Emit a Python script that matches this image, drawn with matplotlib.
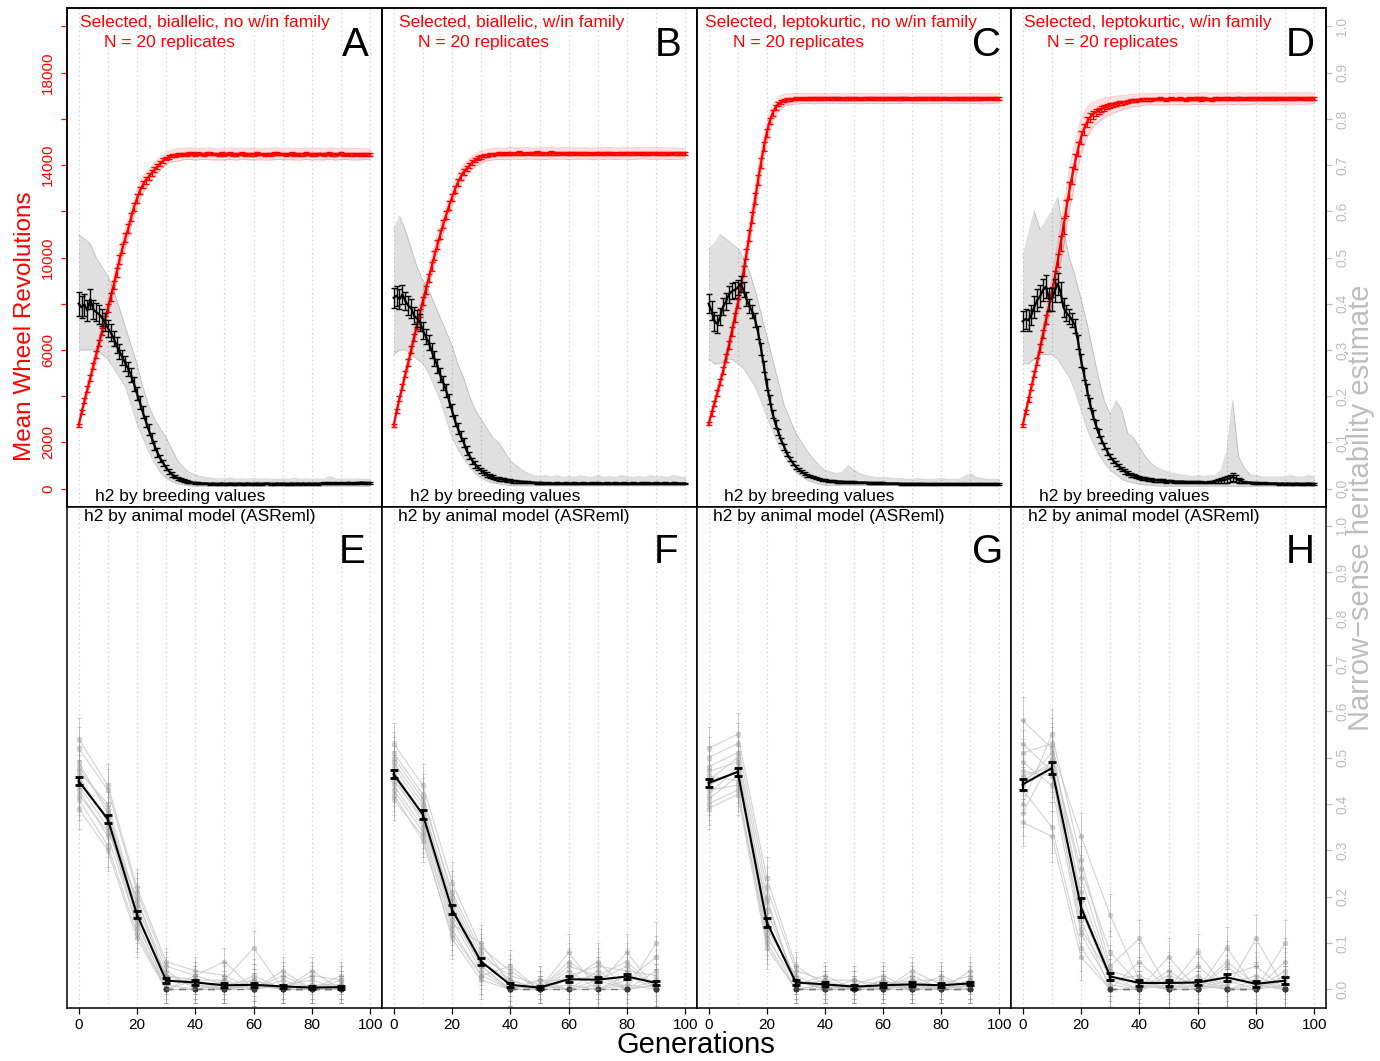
import numpy as np
import matplotlib
matplotlib.use("Agg")
import matplotlib.pyplot as plt
from matplotlib import font_manager

plt.rcParams['font.family'] = ['Liberation Sans', 'DejaVu Sans']
_installed = {f.name for f in font_manager.fontManager.ttflist}
if 'Liberation Sans Narrow' in _installed:
    TICK_FAMILY = ['Liberation Sans Narrow', 'Liberation Sans', 'DejaVu Sans']
    TICK_SIZE = 12.5
else:
    TICK_FAMILY = ['Liberation Sans', 'DejaVu Sans']
    TICK_SIZE = 11

# ---------------- data ----------------
generations = list(range(0, 101))
band_generations = list(range(0, 101, 2))
model_generations = [0, 10, 20, 30, 40, 50, 60, 70, 80, 90]

top_titles = ["Selected, biallelic, no w/in family", "Selected, biallelic, w/in family",
              "Selected, leptokurtic, no w/in family", "Selected, leptokurtic, w/in family"]
subtitle = "N = 20 replicates"
top_letters = ["A", "B", "C", "D"]
bottom_letters = ["E", "F", "G", "H"]
top_note = "h2 by breeding values"
bottom_note = "h2 by animal model (ASReml)"

rev_ticks = [0, 2000, 4000, 6000, 8000, 10000, 12000, 14000, 16000, 18000, 20000]
rev_ticklabels = ["0", "2000", "", "6000", "", "10000", "", "14000", "", "18000", ""]
h2_ticks = [0.0, 0.1, 0.2, 0.3, 0.4, 0.5, 0.6, 0.7, 0.8, 0.9, 1.0]
h2_ticklabels = ["0.0", "0.1", "0.2", "0.3", "0.4", "0.5", "0.6", "0.7", "0.8", "0.9", "1.0"]
gen_ticks = [0, 20, 40, 60, 80, 100]
gen_ticklabels = ["0", "20", "40", "60", "80", "100"]
grid_generations = [0, 10, 20, 30, 40, 50, 60, 70, 80, 90, 100]

# Mean wheel revolutions (per generation)
rev_mean_A = [
    2730, 3300, 3800, 4300, 4800, 5300, 5800, 6300, 6800, 7300,
    7800, 8300, 8800, 9350, 9900, 10400, 10850, 11250, 11750, 12200,
    12550, 12900, 13150, 13350, 13500, 13650, 13800, 13950, 14080, 14200,
    14280, 14350, 14400, 14430, 14450, 14460, 14480, 14470, 14500, 14490,
    14470, 14500, 14480, 14460, 14490, 14500, 14470, 14480, 14460, 14490,
    14470, 14480, 14500, 14470, 14460, 14480, 14490, 14470, 14480, 14460,
    14470, 14490, 14480, 14470, 14460, 14480, 14470, 14490, 14500, 14480,
    14470, 14460, 14480, 14490, 14470, 14480, 14460, 14470, 14490, 14480,
    14470, 14460, 14480, 14490, 14470, 14480, 14500, 14470, 14460, 14480,
    14490, 14470, 14480, 14460, 14470, 14480, 14470, 14460, 14480, 14470,
    14460]
rev_mean_B = [
    2730, 3350, 3900, 4400, 4950, 5450, 6000, 6550, 7050, 7600,
    8100, 8600, 9100, 9600, 10100, 10550, 11000, 11450, 11850, 12250,
    12600, 12950, 13250, 13500, 13700, 13850, 14000, 14120, 14220, 14300,
    14350, 14400, 14430, 14450, 14470, 14480, 14490, 14500, 14480, 14500,
    14510, 14490, 14500, 14520, 14500, 14480, 14510, 14500, 14490, 14520,
    14500, 14510, 14490, 14500, 14520, 14510, 14490, 14500, 14510, 14500,
    14490, 14510, 14500, 14520, 14500, 14490, 14510, 14500, 14480, 14500,
    14510, 14500, 14490, 14510, 14520, 14500, 14490, 14510, 14500, 14490,
    14500, 14510, 14490, 14500, 14520, 14500, 14510, 14490, 14500, 14510,
    14500, 14490, 14510, 14500, 14490, 14520, 14500, 14510, 14490, 14500,
    14500]
rev_mean_C = [
    2800, 3250, 3700, 4150, 4620, 5100, 5650, 6200, 6800, 7400,
    8000, 8700, 9400, 10150, 10950, 11750, 12550, 13350, 14100, 14800,
    15400, 15900, 16250, 16500, 16650, 16740, 16800, 16830, 16850, 16860,
    16870, 16860, 16880, 16870, 16890, 16880, 16870, 16890, 16880, 16870,
    16880, 16890, 16870, 16880, 16900, 16880, 16870, 16890, 16880, 16870,
    16890, 16880, 16870, 16880, 16890, 16900, 16880, 16870, 16880, 16890,
    16880, 16870, 16890, 16880, 16870, 16880, 16890, 16880, 16900, 16880,
    16870, 16880, 16890, 16880, 16870, 16890, 16880, 16870, 16880, 16890,
    16880, 16900, 16880, 16870, 16890, 16880, 16870, 16880, 16890, 16880,
    16870, 16880, 16890, 16880, 16870, 16890, 16880, 16900, 16880, 16890,
    16880]
rev_mean_D = [
    2730, 3300, 3850, 4400, 4950, 5500, 6100, 6700, 7300, 7900,
    8500, 9150, 9850, 10600, 11350, 12150, 12900, 13550, 14150, 14700,
    15200, 15550, 15850, 16050, 16180, 16280, 16350, 16420, 16480, 16530,
    16570, 16610, 16640, 16670, 16700, 16720, 16750, 16780, 16800, 16810,
    16820, 16830, 16850, 16840, 16850, 16860, 16850, 16870, 16860, 16850,
    16860, 16870, 16850, 16860, 16880, 16860, 16850, 16870, 16860, 16880,
    16870, 16860, 16880, 16870, 16860, 16850, 16870, 16880, 16860, 16870,
    16880, 16870, 16860, 16880, 16890, 16870, 16860, 16880, 16870, 16890,
    16880, 16870, 16890, 16880, 16870, 16880, 16890, 16870, 16880, 16890,
    16870, 16880, 16890, 16870, 16880, 16890, 16880, 16870, 16890, 16880,
    16880]

rev_se_A = [
    60, 90, 110, 120, 130, 140, 150, 150, 160, 160,
    170, 170, 180, 180, 190, 190, 190, 190, 190, 180,
    180, 170, 160, 150, 140, 130, 120, 110, 100, 90,
    80, 80, 70, 70, 70, 60, 60, 60, 60, 60,
    60, 50, 60, 70, 60, 60, 50, 60, 60, 70,
    60, 60, 50, 60, 70, 60, 60, 60, 50, 60,
    60, 70, 60, 50, 60, 60, 60, 70, 60, 60,
    50, 60, 60, 70, 60, 60, 50, 60, 60, 60,
    70, 60, 60, 50, 60, 60, 70, 60, 60, 50,
    60, 60, 60, 70, 60, 50, 60, 60, 60, 60,
    60]
rev_se_B = [
    60, 90, 110, 120, 130, 140, 150, 160, 160, 170,
    170, 180, 180, 190, 190, 190, 190, 190, 180, 180,
    170, 160, 150, 140, 130, 120, 110, 100, 90, 80,
    80, 70, 70, 70, 60, 60, 60, 60, 60, 60,
    60, 50, 60, 70, 60, 60, 50, 60, 60, 70,
    60, 60, 50, 60, 70, 60, 60, 60, 50, 60,
    60, 70, 60, 50, 60, 60, 60, 70, 60, 60,
    50, 60, 60, 70, 60, 60, 50, 60, 60, 60,
    70, 60, 60, 50, 60, 60, 70, 60, 60, 50,
    60, 60, 60, 70, 60, 50, 60, 60, 60, 60,
    60]
rev_se_C = [
    60, 90, 110, 130, 140, 150, 160, 170, 180, 190,
    200, 210, 220, 230, 240, 240, 240, 230, 220, 200,
    170, 140, 120, 100, 90, 80, 70, 70, 60, 60,
    60, 60, 60, 50, 60, 60, 60, 60, 50, 60,
    60, 50, 60, 70, 60, 60, 50, 60, 60, 70,
    60, 60, 50, 60, 70, 60, 60, 60, 50, 60,
    60, 70, 60, 50, 60, 60, 60, 70, 60, 60,
    50, 60, 60, 70, 60, 60, 50, 60, 60, 60,
    70, 60, 60, 50, 60, 60, 70, 60, 60, 50,
    60, 60, 60, 70, 60, 50, 60, 60, 60, 60,
    60]
rev_se_D = [
    60, 90, 110, 130, 140, 150, 170, 180, 190, 200,
    220, 250, 280, 310, 340, 360, 370, 360, 340, 310,
    280, 250, 220, 190, 170, 150, 140, 130, 120, 110,
    100, 95, 90, 85, 80, 75, 70, 70, 65, 65,
    60, 60, 60, 70, 60, 60, 50, 60, 60, 70,
    60, 60, 50, 60, 70, 60, 60, 60, 50, 60,
    60, 70, 60, 50, 60, 60, 60, 70, 60, 60,
    50, 60, 60, 70, 60, 60, 50, 60, 60, 60,
    70, 60, 60, 50, 60, 60, 70, 60, 60, 50,
    60, 60, 60, 70, 60, 50, 60, 60, 60, 60,
    60]

# half-width of the replicate spread of revolutions (every 2 generations)
rev_spread_A = [
    120, 200, 260, 300, 330, 360, 380, 400, 400, 400,
    380, 360, 330, 300, 280, 260, 250, 280, 250, 250,
    250, 240, 250, 250, 240, 250, 250, 250, 240, 250,
    250, 250, 240, 250, 250, 240, 250, 250, 250, 240,
    250, 250, 250, 240, 250, 250, 240, 250, 250, 240,
    220]
rev_spread_B = [
    120, 200, 260, 300, 330, 360, 380, 400, 400, 380,
    360, 340, 320, 300, 280, 260, 250, 250, 240, 250,
    250, 240, 250, 250, 240, 250, 250, 250, 240, 250,
    250, 250, 240, 250, 250, 240, 250, 250, 250, 240,
    250, 250, 250, 240, 250, 250, 240, 250, 250, 240,
    220]
rev_spread_C = [
    120, 200, 260, 300, 350, 400, 450, 500, 550, 550,
    450, 350, 300, 260, 240, 230, 220, 220, 220, 220,
    220, 210, 220, 220, 210, 220, 220, 220, 210, 220,
    220, 220, 210, 220, 220, 210, 220, 220, 220, 210,
    220, 220, 220, 210, 220, 220, 210, 220, 220, 210,
    200]
rev_spread_D = [
    120, 200, 260, 320, 400, 550, 750, 900, 900, 850,
    750, 650, 550, 480, 420, 380, 340, 310, 290, 270,
    260, 250, 240, 250, 250, 240, 250, 250, 250, 240,
    250, 250, 250, 240, 250, 250, 240, 250, 250, 250,
    240, 250, 250, 250, 240, 250, 250, 240, 250, 250,
    220]

# Heritability estimated from breeding values (per generation)
h2_mean_A = [
    0.400, 0.392, 0.398, 0.385, 0.410, 0.388, 0.382, 0.377, 0.370, 0.360,
    0.347, 0.338, 0.325, 0.310, 0.296, 0.284, 0.271, 0.259, 0.245, 0.226,
    0.205, 0.186, 0.165, 0.146, 0.127, 0.110, 0.093, 0.078, 0.065, 0.055,
    0.045, 0.037, 0.031, 0.026, 0.022, 0.019, 0.017, 0.015, 0.014, 0.013,
    0.012, 0.012, 0.011, 0.011, 0.011, 0.010, 0.011, 0.010, 0.010, 0.011,
    0.010, 0.010, 0.011, 0.010, 0.010, 0.011, 0.010, 0.010, 0.011, 0.010,
    0.010, 0.011, 0.010, 0.010, 0.011, 0.011, 0.010, 0.010, 0.011, 0.010,
    0.011, 0.010, 0.010, 0.011, 0.010, 0.011, 0.010, 0.011, 0.010, 0.011,
    0.010, 0.011, 0.010, 0.011, 0.012, 0.011, 0.012, 0.011, 0.012, 0.011,
    0.012, 0.011, 0.012, 0.012, 0.011, 0.012, 0.012, 0.013, 0.012, 0.012,
    0.012]
h2_mean_B = [
    0.413, 0.417, 0.410, 0.420, 0.406, 0.396, 0.390, 0.374, 0.368, 0.360,
    0.342, 0.329, 0.316, 0.299, 0.281, 0.266, 0.245, 0.229, 0.212, 0.190,
    0.169, 0.147, 0.130, 0.113, 0.100, 0.082, 0.071, 0.060, 0.052, 0.045,
    0.039, 0.035, 0.030, 0.027, 0.025, 0.022, 0.021, 0.020, 0.019, 0.018,
    0.017, 0.016, 0.016, 0.015, 0.015, 0.014, 0.014, 0.013, 0.013, 0.012,
    0.012, 0.012, 0.011, 0.012, 0.011, 0.011, 0.012, 0.011, 0.011, 0.012,
    0.011, 0.011, 0.012, 0.011, 0.011, 0.012, 0.011, 0.011, 0.012, 0.011,
    0.012, 0.011, 0.011, 0.012, 0.011, 0.011, 0.012, 0.011, 0.011, 0.012,
    0.011, 0.011, 0.012, 0.011, 0.011, 0.012, 0.011, 0.012, 0.011, 0.011,
    0.012, 0.011, 0.011, 0.012, 0.011, 0.011, 0.012, 0.011, 0.011, 0.011,
    0.011]
h2_mean_C = [
    0.400, 0.385, 0.362, 0.356, 0.372, 0.394, 0.405, 0.420, 0.427, 0.430,
    0.435, 0.442, 0.430, 0.410, 0.395, 0.383, 0.365, 0.338, 0.303, 0.265,
    0.225, 0.192, 0.162, 0.140, 0.122, 0.104, 0.090, 0.075, 0.064, 0.055,
    0.047, 0.041, 0.036, 0.032, 0.029, 0.027, 0.025, 0.023, 0.021, 0.019,
    0.018, 0.017, 0.016, 0.016, 0.015, 0.015, 0.015, 0.014, 0.014, 0.014,
    0.014, 0.013, 0.013, 0.013, 0.013, 0.012, 0.012, 0.012, 0.012, 0.012,
    0.012, 0.011, 0.011, 0.011, 0.011, 0.011, 0.010, 0.010, 0.010, 0.010,
    0.010, 0.010, 0.010, 0.010, 0.010, 0.009, 0.009, 0.009, 0.009, 0.009,
    0.009, 0.009, 0.010, 0.009, 0.009, 0.009, 0.010, 0.009, 0.009, 0.009,
    0.009, 0.009, 0.009, 0.010, 0.009, 0.009, 0.009, 0.009, 0.009, 0.009,
    0.009]
h2_mean_D = [
    0.362, 0.367, 0.364, 0.376, 0.393, 0.408, 0.416, 0.430, 0.437, 0.410,
    0.410, 0.428, 0.443, 0.425, 0.392, 0.380, 0.373, 0.364, 0.352, 0.318,
    0.278, 0.248, 0.215, 0.185, 0.160, 0.139, 0.120, 0.106, 0.092, 0.080,
    0.069, 0.061, 0.054, 0.048, 0.042, 0.037, 0.033, 0.030, 0.028, 0.026,
    0.024, 0.022, 0.021, 0.020, 0.019, 0.018, 0.018, 0.017, 0.017, 0.016,
    0.016, 0.016, 0.015, 0.015, 0.015, 0.015, 0.014, 0.014, 0.014, 0.014,
    0.014, 0.014, 0.013, 0.013, 0.014, 0.014, 0.015, 0.016, 0.017, 0.018,
    0.020, 0.022, 0.025, 0.022, 0.018, 0.016, 0.014, 0.013, 0.013, 0.012,
    0.012, 0.012, 0.011, 0.012, 0.011, 0.011, 0.011, 0.011, 0.010, 0.011,
    0.010, 0.011, 0.010, 0.010, 0.011, 0.010, 0.010, 0.010, 0.011, 0.010,
    0.010]

h2_se_A = [
    0.026, 0.024, 0.024, 0.022, 0.022, 0.021, 0.020, 0.020, 0.019, 0.019,
    0.018, 0.018, 0.017, 0.017, 0.016, 0.016, 0.016, 0.015, 0.015, 0.015,
    0.014, 0.014, 0.013, 0.012, 0.012, 0.011, 0.010, 0.009, 0.008, 0.007,
    0.006, 0.005, 0.005, 0.004, 0.004, 0.003, 0.003, 0.003, 0.003, 0.002,
    0.002, 0.002, 0.002, 0.002, 0.002, 0.002, 0.002, 0.002, 0.002, 0.002,
    0.002, 0.002, 0.002, 0.002, 0.002, 0.002, 0.002, 0.002, 0.002, 0.002,
    0.002, 0.002, 0.002, 0.002, 0.002, 0.002, 0.002, 0.002, 0.002, 0.002,
    0.002, 0.002, 0.002, 0.002, 0.002, 0.002, 0.002, 0.002, 0.002, 0.002,
    0.002, 0.002, 0.002, 0.002, 0.003, 0.002, 0.002, 0.002, 0.002, 0.002,
    0.002, 0.002, 0.002, 0.002, 0.002, 0.002, 0.002, 0.002, 0.002, 0.002,
    0.002]
h2_se_B = [
    0.022, 0.022, 0.021, 0.021, 0.020, 0.020, 0.020, 0.019, 0.019, 0.018,
    0.018, 0.017, 0.017, 0.016, 0.016, 0.015, 0.015, 0.015, 0.014, 0.014,
    0.013, 0.012, 0.012, 0.011, 0.010, 0.009, 0.008, 0.007, 0.007, 0.006,
    0.006, 0.005, 0.005, 0.005, 0.004, 0.004, 0.004, 0.003, 0.003, 0.003,
    0.003, 0.003, 0.003, 0.002, 0.002, 0.002, 0.002, 0.002, 0.002, 0.002,
    0.002, 0.002, 0.002, 0.002, 0.002, 0.002, 0.002, 0.002, 0.002, 0.002,
    0.002, 0.002, 0.002, 0.002, 0.002, 0.002, 0.002, 0.002, 0.002, 0.002,
    0.002, 0.002, 0.002, 0.002, 0.002, 0.002, 0.002, 0.002, 0.002, 0.002,
    0.002, 0.002, 0.002, 0.002, 0.002, 0.002, 0.002, 0.002, 0.002, 0.002,
    0.002, 0.002, 0.002, 0.002, 0.002, 0.002, 0.002, 0.002, 0.002, 0.002,
    0.002]
h2_se_C = [
    0.020, 0.020, 0.020, 0.019, 0.019, 0.018, 0.018, 0.018, 0.017, 0.017,
    0.017, 0.017, 0.016, 0.016, 0.016, 0.015, 0.015, 0.014, 0.013, 0.012,
    0.011, 0.010, 0.009, 0.008, 0.007, 0.006, 0.006, 0.005, 0.005, 0.004,
    0.004, 0.004, 0.003, 0.003, 0.003, 0.003, 0.003, 0.002, 0.002, 0.002,
    0.002, 0.002, 0.002, 0.002, 0.002, 0.002, 0.002, 0.002, 0.002, 0.002,
    0.002, 0.002, 0.002, 0.002, 0.002, 0.002, 0.002, 0.002, 0.002, 0.002,
    0.002, 0.002, 0.002, 0.002, 0.002, 0.002, 0.002, 0.002, 0.002, 0.002,
    0.002, 0.002, 0.002, 0.002, 0.002, 0.002, 0.002, 0.002, 0.002, 0.002,
    0.002, 0.002, 0.002, 0.002, 0.002, 0.002, 0.002, 0.002, 0.002, 0.002,
    0.002, 0.002, 0.002, 0.002, 0.002, 0.002, 0.002, 0.002, 0.002, 0.002,
    0.002]
h2_se_D = [
    0.022, 0.022, 0.022, 0.022, 0.023, 0.023, 0.024, 0.024, 0.025, 0.025,
    0.025, 0.025, 0.024, 0.022, 0.020, 0.018, 0.016, 0.015, 0.015, 0.015,
    0.014, 0.013, 0.012, 0.011, 0.010, 0.009, 0.008, 0.008, 0.007, 0.007,
    0.006, 0.006, 0.006, 0.005, 0.005, 0.005, 0.004, 0.004, 0.004, 0.004,
    0.003, 0.003, 0.003, 0.003, 0.003, 0.003, 0.003, 0.003, 0.003, 0.003,
    0.002, 0.002, 0.002, 0.002, 0.002, 0.002, 0.002, 0.002, 0.002, 0.002,
    0.002, 0.002, 0.002, 0.002, 0.002, 0.003, 0.003, 0.004, 0.005, 0.006,
    0.007, 0.008, 0.009, 0.007, 0.005, 0.004, 0.003, 0.002, 0.002, 0.002,
    0.002, 0.002, 0.002, 0.002, 0.002, 0.002, 0.002, 0.002, 0.002, 0.002,
    0.002, 0.002, 0.002, 0.002, 0.002, 0.002, 0.002, 0.002, 0.002, 0.002,
    0.002]

# replicate range of breeding-value h2 (every 2 generations)
h2_low_A = [
    0.30, 0.30, 0.30, 0.30, 0.29, 0.28, 0.26, 0.24, 0.22, 0.18,
    0.14, 0.11, 0.08, 0.055, 0.035, 0.022, 0.015, 0.010, 0.008, 0.006,
    0.005, 0.005, 0.005, 0.005, 0.005, 0.005, 0.005, 0.005, 0.005, 0.005,
    0.005, 0.005, 0.005, 0.005, 0.005, 0.005, 0.005, 0.005, 0.005, 0.005,
    0.005, 0.005, 0.005, 0.005, 0.005, 0.005, 0.005, 0.005, 0.005, 0.005,
    0.005]
h2_high_A = [
    0.55, 0.54, 0.53, 0.50, 0.48, 0.46, 0.43, 0.39, 0.35, 0.31,
    0.27, 0.22, 0.18, 0.15, 0.13, 0.11, 0.085, 0.060, 0.045, 0.035,
    0.030, 0.026, 0.024, 0.022, 0.021, 0.021, 0.023, 0.020, 0.021, 0.020,
    0.022, 0.020, 0.021, 0.020, 0.020, 0.021, 0.020, 0.022, 0.020, 0.021,
    0.020, 0.021, 0.020, 0.026, 0.021, 0.020, 0.021, 0.020, 0.021, 0.020,
    0.020]
h2_low_B = [
    0.29, 0.30, 0.30, 0.29, 0.28, 0.27, 0.25, 0.22, 0.19, 0.15,
    0.11, 0.085, 0.065, 0.045, 0.032, 0.022, 0.016, 0.012, 0.010, 0.008,
    0.006, 0.006, 0.006, 0.006, 0.006, 0.006, 0.006, 0.006, 0.006, 0.006,
    0.006, 0.006, 0.006, 0.006, 0.006, 0.006, 0.006, 0.006, 0.006, 0.006,
    0.006, 0.006, 0.006, 0.006, 0.006, 0.006, 0.006, 0.006, 0.006, 0.006,
    0.006]
h2_high_B = [
    0.56, 0.59, 0.56, 0.52, 0.48, 0.45, 0.43, 0.40, 0.37, 0.34,
    0.31, 0.27, 0.24, 0.20, 0.17, 0.15, 0.13, 0.11, 0.10, 0.08,
    0.06, 0.05, 0.04, 0.033, 0.028, 0.026, 0.028, 0.025, 0.028, 0.024,
    0.026, 0.024, 0.028, 0.025, 0.024, 0.028, 0.024, 0.026, 0.024, 0.028,
    0.025, 0.024, 0.026, 0.024, 0.028, 0.025, 0.026, 0.024, 0.028, 0.025,
    0.024]
h2_low_C = [
    0.28, 0.27, 0.27, 0.28, 0.28, 0.27, 0.26, 0.24, 0.22, 0.19,
    0.155, 0.125, 0.095, 0.07, 0.053, 0.035, 0.025, 0.018, 0.013, 0.010,
    0.007, 0.007, 0.007, 0.007, 0.007, 0.007, 0.007, 0.007, 0.007, 0.007,
    0.007, 0.007, 0.007, 0.007, 0.007, 0.007, 0.007, 0.007, 0.007, 0.007,
    0.007, 0.007, 0.007, 0.007, 0.007, 0.007, 0.007, 0.007, 0.007, 0.007,
    0.007]
h2_high_C = [
    0.52, 0.53, 0.55, 0.54, 0.53, 0.52, 0.50, 0.47, 0.43, 0.38,
    0.33, 0.28, 0.23, 0.18, 0.15, 0.12, 0.10, 0.08, 0.065, 0.050,
    0.040, 0.036, 0.032, 0.036, 0.050, 0.040, 0.032, 0.028, 0.026, 0.024,
    0.024, 0.023, 0.022, 0.022, 0.020, 0.020, 0.022, 0.020, 0.020, 0.020,
    0.022, 0.020, 0.020, 0.020, 0.026, 0.032, 0.024, 0.022, 0.020, 0.020,
    0.020]
h2_low_D = [
    0.27, 0.27, 0.28, 0.29, 0.29, 0.29, 0.28, 0.26, 0.24, 0.21,
    0.17, 0.13, 0.10, 0.075, 0.055, 0.040, 0.030, 0.020, 0.015, 0.012,
    0.010, 0.008, 0.007, 0.006, 0.005, 0.005, 0.005, 0.005, 0.005, 0.005,
    0.005, 0.005, 0.005, 0.005, 0.005, 0.005, 0.005, 0.005, 0.005, 0.005,
    0.005, 0.005, 0.005, 0.005, 0.005, 0.005, 0.005, 0.005, 0.005, 0.005,
    0.005]
h2_high_D = [
    0.50, 0.55, 0.60, 0.56, 0.58, 0.60, 0.63, 0.56, 0.50, 0.46,
    0.41, 0.36, 0.30, 0.24, 0.19, 0.16, 0.19, 0.17, 0.12, 0.11,
    0.09, 0.07, 0.055, 0.045, 0.040, 0.035, 0.032, 0.030, 0.028, 0.026,
    0.028, 0.026, 0.028, 0.028, 0.040, 0.08, 0.19, 0.07, 0.045, 0.030,
    0.028, 0.025, 0.025, 0.025, 0.025, 0.025, 0.028, 0.025, 0.025, 0.028,
    0.025]

# Heritability by animal model, every 10 generations
am_mean_E = [0.449, 0.367, 0.161, 0.019, 0.015, 0.009, 0.010, 0.0065, 0.004, 0.005]
am_mean_F = [0.464, 0.377, 0.172, 0.060, 0.010, 0.004, 0.022, 0.021, 0.028, 0.014]
am_mean_G = [0.445, 0.469, 0.145, 0.015, 0.011, 0.006, 0.009, 0.011, 0.009, 0.013]
am_mean_H = [0.442, 0.477, 0.177, 0.028, 0.014, 0.014, 0.015, 0.026, 0.012, 0.019]
am_se_E = [0.008, 0.008, 0.008, 0.005, 0.005, 0.004, 0.004, 0.003, 0.003, 0.003]
am_se_F = [0.008, 0.009, 0.010, 0.007, 0.004, 0.003, 0.006, 0.006, 0.006, 0.005]
am_se_G = [0.008, 0.008, 0.010, 0.005, 0.004, 0.004, 0.004, 0.004, 0.004, 0.004]
am_se_H = [0.011, 0.013, 0.020, 0.008, 0.007, 0.006, 0.006, 0.007, 0.006, 0.007]

am_reps_E = [
    [0.47, 0.40, 0.18, 0.03, 0.02, 0.00, 0.01, 0.00, 0.00, 0.01],
    [0.52, 0.43, 0.21, 0.05, 0.03, 0.06, 0.00, 0.02, 0.00, 0.00],
    [0.44, 0.35, 0.15, 0.00, 0.00, 0.01, 0.02, 0.00, 0.04, 0.00],
    [0.49, 0.38, 0.17, 0.02, 0.01, 0.00, 0.00, 0.03, 0.00, 0.02],
    [0.41, 0.31, 0.12, 0.00, 0.02, 0.02, 0.09, 0.00, 0.01, 0.00],
    [0.45, 0.37, 0.19, 0.04, 0.00, 0.00, 0.01, 0.00, 0.00, 0.03],
    [0.54, 0.44, 0.22, 0.06, 0.04, 0.03, 0.00, 0.01, 0.02, 0.00],
    [0.43, 0.33, 0.14, 0.01, 0.00, 0.00, 0.03, 0.00, 0.00, 0.01],
    [0.39, 0.30, 0.11, 0.00, 0.03, 0.01, 0.00, 0.04, 0.00, 0.00],
    [0.48, 0.39, 0.16, 0.03, 0.01, 0.00, 0.02, 0.00, 0.03, 0.02],
    [0.46, 0.36, 0.13, 0.00, 0.00, 0.02, 0.00, 0.01, 0.00, 0.00],
    [0.42, 0.34, 0.20, 0.02, 0.02, 0.00, 0.01, 0.00, 0.01, 0.01]]
am_reps_F = [
    [0.50, 0.41, 0.21, 0.08, 0.02, 0.00, 0.05, 0.03, 0.06, 0.00],
    [0.46, 0.36, 0.16, 0.05, 0.00, 0.01, 0.00, 0.02, 0.00, 0.04],
    [0.53, 0.44, 0.23, 0.09, 0.04, 0.00, 0.08, 0.00, 0.03, 0.00],
    [0.43, 0.34, 0.13, 0.03, 0.00, 0.02, 0.02, 0.06, 0.00, 0.02],
    [0.48, 0.39, 0.19, 0.06, 0.01, 0.00, 0.00, 0.01, 0.08, 0.00],
    [0.41, 0.33, 0.11, 0.02, 0.00, 0.00, 0.04, 0.00, 0.02, 0.07],
    [0.51, 0.42, 0.20, 0.07, 0.03, 0.01, 0.00, 0.04, 0.00, 0.01],
    [0.45, 0.37, 0.15, 0.04, 0.00, 0.00, 0.06, 0.02, 0.05, 0.00],
    [0.49, 0.40, 0.18, 0.06, 0.02, 0.00, 0.01, 0.00, 0.00, 0.10],
    [0.44, 0.35, 0.14, 0.10, 0.01, 0.00, 0.03, 0.05, 0.04, 0.03],
    [0.47, 0.38, 0.17, 0.05, 0.00, 0.02, 0.00, 0.00, 0.01, 0.00],
    [0.42, 0.32, 0.12, 0.03, 0.05, 0.00, 0.02, 0.03, 0.00, 0.01]]
am_reps_G = [
    [0.45, 0.50, 0.17, 0.02, 0.00, 0.01, 0.00, 0.02, 0.00, 0.01],
    [0.41, 0.46, 0.12, 0.00, 0.01, 0.00, 0.02, 0.00, 0.01, 0.00],
    [0.50, 0.53, 0.22, 0.04, 0.02, 0.00, 0.00, 0.01, 0.00, 0.02],
    [0.43, 0.44, 0.10, 0.00, 0.00, 0.02, 0.01, 0.00, 0.03, 0.00],
    [0.47, 0.49, 0.15, 0.01, 0.03, 0.00, 0.00, 0.03, 0.00, 0.04],
    [0.39, 0.42, 0.09, 0.00, 0.00, 0.01, 0.03, 0.00, 0.00, 0.00],
    [0.52, 0.55, 0.24, 0.05, 0.01, 0.00, 0.01, 0.02, 0.02, 0.01],
    [0.44, 0.47, 0.14, 0.02, 0.00, 0.00, 0.00, 0.00, 0.01, 0.03],
    [0.46, 0.45, 0.19, 0.01, 0.02, 0.02, 0.00, 0.01, 0.00, 0.00],
    [0.42, 0.48, 0.13, 0.03, 0.00, 0.00, 0.02, 0.00, 0.00, 0.02],
    [0.48, 0.51, 0.20, 0.00, 0.01, 0.01, 0.00, 0.04, 0.01, 0.00],
    [0.40, 0.43, 0.11, 0.02, 0.00, 0.00, 0.01, 0.00, 0.00, 0.01]]
am_reps_H = [
    [0.58, 0.52, 0.33, 0.16, 0.02, 0.00, 0.01, 0.00, 0.11, 0.00],
    [0.45, 0.49, 0.21, 0.03, 0.00, 0.07, 0.00, 0.02, 0.00, 0.03],
    [0.40, 0.55, 0.28, 0.05, 0.11, 0.00, 0.08, 0.00, 0.01, 0.00],
    [0.47, 0.46, 0.15, 0.00, 0.00, 0.02, 0.00, 0.09, 0.00, 0.10],
    [0.51, 0.53, 0.19, 0.02, 0.03, 0.00, 0.03, 0.00, 0.02, 0.00],
    [0.43, 0.35, 0.09, 0.00, 0.00, 0.01, 0.00, 0.05, 0.00, 0.04],
    [0.38, 0.50, 0.26, 0.08, 0.01, 0.00, 0.02, 0.00, 0.00, 0.01],
    [0.49, 0.44, 0.12, 0.01, 0.00, 0.04, 0.00, 0.03, 0.05, 0.00],
    [0.44, 0.51, 0.24, 0.04, 0.02, 0.00, 0.05, 0.00, 0.00, 0.06],
    [0.36, 0.33, 0.07, 0.00, 0.06, 0.00, 0.00, 0.01, 0.03, 0.00],
    [0.46, 0.48, 0.17, 0.02, 0.00, 0.03, 0.01, 0.00, 0.00, 0.02],
    [0.53, 0.47, 0.13, 0.03, 0.01, 0.00, 0.00, 0.06, 0.01, 0.00]]
am_rep_se_E = [0.045, 0.045, 0.040, 0.030, 0.030, 0.030, 0.035, 0.030, 0.030, 0.030]
am_rep_se_F = [0.045, 0.045, 0.045, 0.040, 0.035, 0.030, 0.040, 0.040, 0.040, 0.045]
am_rep_se_G = [0.045, 0.045, 0.045, 0.030, 0.030, 0.030, 0.030, 0.030, 0.030, 0.030]
am_rep_se_H = [0.050, 0.055, 0.050, 0.045, 0.040, 0.040, 0.040, 0.045, 0.050, 0.050]

# ---------------- layout ----------------
W, H = 1380, 1061
RED = '#FF0000'
GRAY = '#BEBEBE'
col_edges = [67, 382, 697, 1011, 1326]
row_edges = [8, 507, 1008]

fig = plt.figure(figsize=(W / 100, H / 100), dpi=100)


def add_ax(c, r):
    x0, x1 = col_edges[c], col_edges[c + 1]
    y0, y1 = row_edges[r], row_edges[r + 1]
    return fig.add_axes([x0 / W, 1 - y1 / H, (x1 - x0) / W, (y1 - y0) / H])


def ftext(x, y, s, **kw):
    fig.text(x / W, 1 - y / H, s, **kw)


def style_spines(ax):
    for sp in ax.spines.values():
        sp.set_linewidth(1.1)
        sp.set_color('black')


def draw_grid(ax):
    for gg in grid_generations:
        ax.axvline(gg, color='#c8c8c8', lw=0.8, ls=(0, (1, 3)), zorder=0)


top_data = [
    (rev_mean_A, rev_se_A, rev_spread_A, h2_mean_A, h2_se_A, h2_low_A, h2_high_A),
    (rev_mean_B, rev_se_B, rev_spread_B, h2_mean_B, h2_se_B, h2_low_B, h2_high_B),
    (rev_mean_C, rev_se_C, rev_spread_C, h2_mean_C, h2_se_C, h2_low_C, h2_high_C),
    (rev_mean_D, rev_se_D, rev_spread_D, h2_mean_D, h2_se_D, h2_low_D, h2_high_D),
]
bottom_data = [
    (am_mean_E, am_se_E, am_reps_E, am_rep_se_E),
    (am_mean_F, am_se_F, am_reps_F, am_rep_se_F),
    (am_mean_G, am_se_G, am_reps_G, am_rep_se_G),
    (am_mean_H, am_se_H, am_reps_H, am_rep_se_H),
]

title_pos = [((80, 23), (104, 43)), ((399, 23), (418, 43)),
             ((705, 23), (733, 43)), ((1024, 23), (1047, 43))]
letter_top_pos = [(355, 45), (668, 45), (987, 45), (1300, 45)]
letter_bot_pos = [(352, 552), (666, 552), (988, 552), (1300, 552)]
note_top_x = [95, 410, 724, 1039]
note_bot_x = [84, 398, 713, 1028]

g = np.array(generations)
gb = np.array(band_generations)

for i, (rm, rse, rsp, hm, hse, hlo, hhi) in enumerate(top_data):
    for arr in (rm, rse, hm, hse):
        assert len(arr) == len(generations)
    for arr in (rsp, hlo, hhi):
        assert len(arr) == len(band_generations)
    ax = add_ax(i, 0)
    ax.set_xlim(-4, 104)
    ax.set_ylim(-800, 20800)
    draw_grid(ax)
    rm_a = np.array(rm, float)
    rb = rm_a[::2]
    sp = np.array(rsp, float)
    ax.fill_between(gb, rb - sp, rb + sp, color=RED, alpha=0.12, lw=0)
    ax.plot(gb, rb - sp, color=RED, alpha=0.2, lw=0.7)
    ax.plot(gb, rb + sp, color=RED, alpha=0.2, lw=0.7)
    ax.errorbar(g, rm_a, yerr=rse, color=RED, lw=1.6, elinewidth=1.0,
                capsize=2.0, capthick=1.0)
    ax.tick_params(axis='x', bottom=False, labelbottom=False)
    if i == 0:
        ax.set_yticks(rev_ticks, rev_ticklabels, rotation=90, va='center',
                      color=RED, fontsize=11)
        ax.tick_params(axis='y', colors=RED, length=4.5, width=0.9, pad=4,
                       direction='out')
    else:
        ax.set_yticks([])
    style_spines(ax)

    ax2 = ax.twinx()
    ax2.set_ylim(-0.04, 1.04)
    ax2.fill_between(gb, hlo, hhi, color='black', alpha=0.12, lw=0)
    ax2.plot(gb, hlo, color='black', alpha=0.15, lw=0.7)
    ax2.plot(gb, hhi, color='black', alpha=0.15, lw=0.7)
    ax2.errorbar(g, hm, yerr=hse, color='black', lw=1.6, elinewidth=1.0,
                 capsize=2.0, capthick=1.0)
    if i == 3:
        ax2.set_yticks(h2_ticks, h2_ticklabels, rotation=90, va='center',
                       color=GRAY, fontsize=10)
        ax2.tick_params(axis='y', colors=GRAY, length=4.5, width=0.9, pad=2,
                        direction='out')
    else:
        ax2.set_yticks([])
    style_spines(ax2)

    (t1x, t1y), (t2x, t2y) = title_pos[i]
    ftext(t1x, t1y, top_titles[i], color=RED, fontsize=12.5, ha='left', va='center')
    ftext(t2x, t2y, subtitle, color=RED, fontsize=12.5, ha='left', va='center')
    lx, ly = letter_top_pos[i]
    ftext(lx, ly, top_letters[i], fontsize=29, ha='center', va='center')
    ftext(note_top_x[i], 496, top_note, fontsize=12.5, ha='left', va='center')

for i, (mm, mse, reps, rse) in enumerate(bottom_data):
    ax = add_ax(i, 1)
    ax.set_xlim(-4, 104)
    ax.set_ylim(-0.04, 1.04)
    draw_grid(ax)
    mg = np.array(model_generations)
    for rep in reps:
        rv = np.array(rep, float)
        ax.plot(mg, rv, color='#c4c4c4', lw=0.8, alpha=0.75, zorder=1)
        ax.errorbar(mg, rv, yerr=rse, fmt='none', ecolor='#9a9a9a', elinewidth=0.6,
                    capsize=1.5, capthick=0.6, alpha=0.5, zorder=1)
        nz = rv > 0
        ax.plot(mg[nz], rv[nz], 'o', ms=4, color='#8c8c8c', alpha=0.4,
                mec='none', zorder=2)
        ax.plot(mg[~nz], rv[~nz], 'o', ms=4, color='#3a3a3a', mec='none', zorder=2)
        for k in range(len(mg) - 1):
            if rv[k] == 0 and rv[k + 1] == 0:
                ax.plot(mg[k:k + 2], [0, 0], color='#777777', lw=1.0,
                        ls=(0, (5, 4)), zorder=2)
    ax.errorbar(mg, mm, yerr=mse, color='black', lw=1.5, elinewidth=1.5,
                capsize=3, capthick=2.0, zorder=4)
    ax.set_xticks(gen_ticks, gen_ticklabels, fontsize=TICK_SIZE, family=TICK_FAMILY)
    ax.tick_params(axis='x', length=4.5, width=0.9, pad=2.5, direction='out')
    if i == 3:
        ax.set_yticks(h2_ticks, h2_ticklabels, rotation=90, va='center',
                      color=GRAY, fontsize=10)
        ax.yaxis.tick_right()
        ax.tick_params(axis='y', colors=GRAY, length=4.5, width=0.9, pad=2,
                       direction='out')
    else:
        ax.set_yticks([])
    style_spines(ax)
    lx, ly = letter_bot_pos[i]
    ftext(lx, ly, bottom_letters[i], fontsize=29, ha='center', va='center')
    ftext(note_bot_x[i], 517, bottom_note, fontsize=12.5, ha='left', va='center')

ftext(25, 326, "Mean Wheel Revolutions", color=RED, fontsize=17.5, rotation=90,
      ha='center', va='center')
ftext(1361, 508, "Narrow\u2212sense heritability estimate", color=GRAY, fontsize=21,
      rotation=90, ha='center', va='center')
ftext(696, 1045, "Generations", fontsize=21, ha='center', va='center')

fig.savefig("out.png", dpi=100)
